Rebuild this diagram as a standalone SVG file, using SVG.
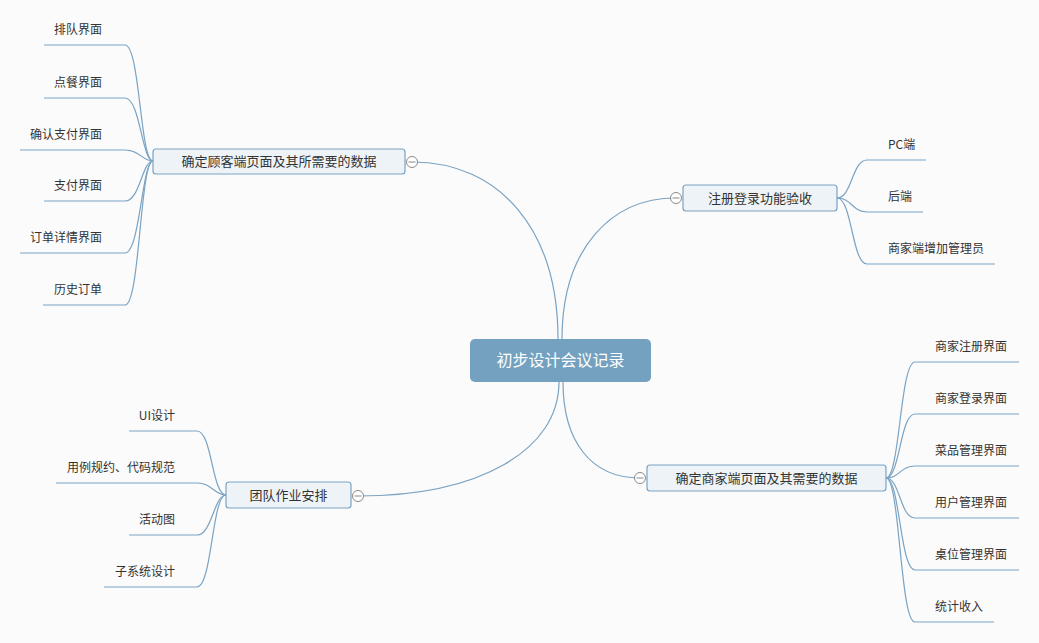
<svg xmlns="http://www.w3.org/2000/svg" width="1039" height="643" viewBox="0 0 1039 643">
<style>
.bg{fill:#fbfbfb}
.ln{fill:none;stroke:#7aa3c3;stroke-width:1.2}
.node{fill:#eef3f7;stroke:#7aa3c3;stroke-width:1.2}
.root{fill:#73a1bf}
.t{font-family:"Noto Sans CJK SC","Liberation Sans",sans-serif;font-size:12px;fill:#333}
.tb{font-family:"Noto Sans CJK SC","Liberation Sans",sans-serif;font-size:13px;fill:#333}
.tr{font-family:"Noto Sans CJK SC","Liberation Sans",sans-serif;font-size:16px;fill:#fff}
.col{fill:#fff;stroke:#8a8a8a;stroke-width:1}
.minus{stroke:#8a8a8a;stroke-width:1}
</style>
<defs>
<g id="collapse"><circle class="col" cx="0" cy="0" r="5.5"/><line class="minus" x1="-3.5" y1="0" x2="3.5" y2="0"/></g>
</defs>
<rect class="bg" x="0" y="0" width="1039" height="643"/>
<g id="connectors">
<path class="ln" d="M558,339 C558,230 500,162 412,162"/>
<path class="ln" d="M562,339 C562,250 610,198 676,198"/>
<path class="ln" d="M559,382 C559,450 480,496 358,496"/>
<path class="ln" d="M563,382 C563,440 590,478 640,478"/>
<path class="ln" d="M44,45 H125 C140,45 140,161 153,161"/>
<path class="ln" d="M44,98 H125 C140,98 142,161 153,161"/>
<path class="ln" d="M20,150 H125 C140,150 142,161 153,161"/>
<path class="ln" d="M44,201 H125 C140,201 142,161 153,161"/>
<path class="ln" d="M20,253 H125 C140,253 142,161 153,161"/>
<path class="ln" d="M43,305 H125 C140,305 140,161 153,161"/>
<path class="ln" d="M837,198 C852,198 852,160 867,160 H926"/>
<path class="ln" d="M837,198 C852,198 852,212 867,212 H923"/>
<path class="ln" d="M837,198 C852,198 852,264 867,264 H995"/>
<path class="ln" d="M129,431 H197 C212,431 212,495 226,495"/>
<path class="ln" d="M56,483 H197 C212,483 214,495 226,495"/>
<path class="ln" d="M129,535 H197 C212,535 214,495 226,495"/>
<path class="ln" d="M104,587 H197 C212,587 212,495 226,495"/>
<path class="ln" d="M886,478 C900,478 900,362 915,362 H1019"/>
<path class="ln" d="M886,478 C900,478 900,414 915,414 H1019"/>
<path class="ln" d="M886,478 C900,478 900,466 915,466 H1019"/>
<path class="ln" d="M886,478 C900,478 900,518 915,518 H1019"/>
<path class="ln" d="M886,478 C900,478 900,570 915,570 H1019"/>
<path class="ln" d="M886,478 C900,478 900,622 915,622 H994"/>
</g>
<g id="root"><rect class="root" x="470" y="339" width="181" height="43" rx="5"/><text class="tr" x="560.5" y="366" text-anchor="middle">初步设计会议记录</text></g>
<g id="n-customer"><rect class="node" x="153" y="149" width="252" height="25" rx="3"/><text class="tb" x="279" y="166" text-anchor="middle">确定顾客端页面及其所需要的数据</text><use href="#collapse" x="412" y="162"/></g>
<g id="n-login"><rect class="node" x="683" y="185" width="154" height="26" rx="3"/><text class="tb" x="760" y="202.5" text-anchor="middle">注册登录功能验收</text><use href="#collapse" x="676" y="198"/></g>
<g id="n-team"><rect class="node" x="226" y="482" width="125" height="26" rx="3"/><text class="tb" x="288.5" y="499.5" text-anchor="middle">团队作业安排</text><use href="#collapse" x="358" y="496"/></g>
<g id="n-merchant"><rect class="node" x="647" y="465" width="239" height="26" rx="3"/><text class="tb" x="766.5" y="482.5" text-anchor="middle">确定商家端页面及其需要的数据</text><use href="#collapse" x="640" y="478"/></g>
<g id="leaf-c1"><text class="t" x="102" y="34" text-anchor="end">排队界面</text></g>
<g id="leaf-c2"><text class="t" x="102" y="87" text-anchor="end">点餐界面</text></g>
<g id="leaf-c3"><text class="t" x="102" y="139" text-anchor="end">确认支付界面</text></g>
<g id="leaf-c4"><text class="t" x="102" y="190" text-anchor="end">支付界面</text></g>
<g id="leaf-c5"><text class="t" x="102" y="242" text-anchor="end">订单详情界面</text></g>
<g id="leaf-c6"><text class="t" x="102" y="294" text-anchor="end">历史订单</text></g>
<g id="leaf-l1"><text class="t" x="888" y="149">PC端</text></g>
<g id="leaf-l2"><text class="t" x="888" y="201">后端</text></g>
<g id="leaf-l3"><text class="t" x="888" y="253">商家端增加管理员</text></g>
<g id="leaf-t1"><text class="t" x="175" y="420" text-anchor="end">UI设计</text></g>
<g id="leaf-t2"><text class="t" x="175" y="472" text-anchor="end">用例规约、代码规范</text></g>
<g id="leaf-t3"><text class="t" x="175" y="524" text-anchor="end">活动图</text></g>
<g id="leaf-t4"><text class="t" x="175" y="576" text-anchor="end">子系统设计</text></g>
<g id="leaf-m1"><text class="t" x="935" y="351">商家注册界面</text></g>
<g id="leaf-m2"><text class="t" x="935" y="403">商家登录界面</text></g>
<g id="leaf-m3"><text class="t" x="935" y="455">菜品管理界面</text></g>
<g id="leaf-m4"><text class="t" x="935" y="507">用户管理界面</text></g>
<g id="leaf-m5"><text class="t" x="935" y="559">桌位管理界面</text></g>
<g id="leaf-m6"><text class="t" x="935" y="611">统计收入</text></g>
</svg>
